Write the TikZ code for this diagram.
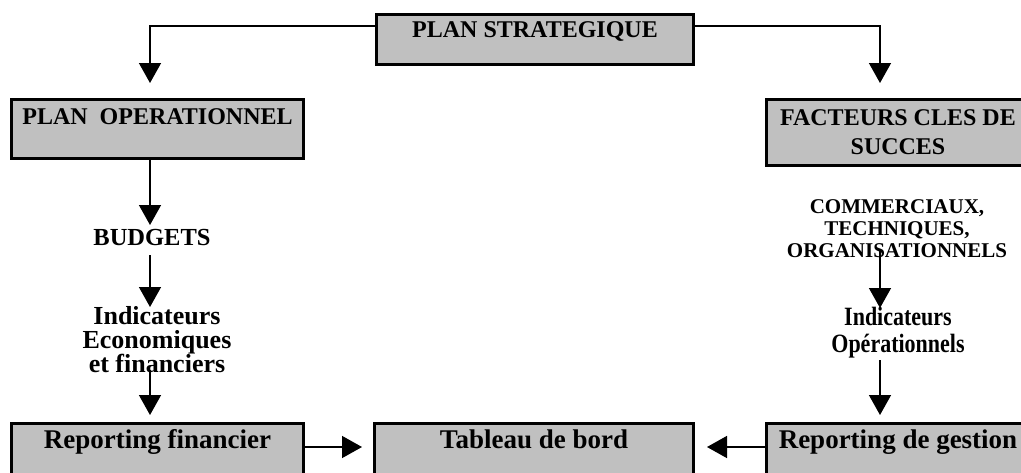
\documentclass[tikz,border=0pt]{standalone}
\usepackage{fontspec}
\usepackage{graphicx}
\setmainfont{Liberation Serif}
\usetikzlibrary{arrows.meta}
\definecolor{boxgrey}{RGB}{192,192,192}
\tikzset{
  box/.style={draw=black, fill=boxgrey, line width=3pt, inner sep=0pt, font=\bfseries\fontsize{24}{29}\selectfont},
  bbox/.style={box, font=\bfseries\fontsize{27}{32}\selectfont, minimum height=57pt, text height=25pt, text depth=32pt},
  conn/.style={line width=1.5pt, -{Triangle[length=20pt,width=22pt]}},
  lbl/.style={inner sep=0pt, align=center, font=\bfseries\fontsize{24}{29}\selectfont},
}
\begin{document}
\begin{tikzpicture}[x=1pt,y=-1pt]
\path[use as bounding box] (0,0) rectangle (1021,472);
\clip (0,0) rectangle (1021,472);
% boxes
\node[box, minimum width=317pt, minimum height=50pt, text height=23pt, text depth=27pt] (strat) at (535,39.5) {PLAN STRATEGIQUE};
\node[box, minimum width=292pt, minimum height=59pt, text height=24.5pt, text depth=34.5pt] (op) at (157.5,129) {PLAN~~OPERATIONNEL};
\node[box, minimum width=264pt, minimum height=66pt, align=center] (fcs) at (898,132.5) {FACTEURS CLES DE\\SUCCES};
\node[bbox, minimum width=292pt] (rf) at (157.5,452) {Reporting financier};
\node[bbox, minimum width=319pt] (tb) at (534,452) {Tableau de bord};
\node[bbox, minimum width=264pt] (rg) at (898,452) {Reporting de gestion};
% texts
\node[lbl, anchor=base, font=\bfseries\fontsize{24.5}{27}\selectfont] (bud) at (152,245) {BUDGETS};
\node[lbl, font=\bfseries\fontsize{26}{24}\selectfont] (indl) at (157,340) {Indicateurs\\Economiques\\et financiers};
\node[lbl, font=\bfseries\fontsize{21}{22}\selectfont] (crit) at (897,229) {COMMERCIAUX,\\TECHNIQUES,\\ORGANISATIONNELS};
\node[lbl, font=\bfseries\fontsize{22}{22.5}\selectfont] (indr) at (898,334) {\scalebox{1}[1.2]{\begin{tabular}{@{}c@{}}Indicateurs\\Opérationnels\end{tabular}}};
% coordinates
\coordinate (l1) at (150,26);
\coordinate (r1) at (880,26);
\coordinate (lt) at (150,83);
\coordinate (rt) at (880,83);
% connectors
\draw[conn] (strat.west |- l1) -- (l1) -- (lt);
\draw[conn] (strat.east |- r1) -- (r1) -- (rt);
\draw[conn] (150,160) -- (150,225);
\draw[conn] (150,255) -- (150,307);
\draw[conn] (150,370) -- (150,415);
\draw[conn] (880,250) -- (880,308);
\draw[conn] (880,360) -- (880,415);
\draw[conn] (rf.east |- 0,447) -- (362,447);
\draw[conn] (rg.west |- 0,447) -- (707,447);
\end{tikzpicture}
\end{document}
